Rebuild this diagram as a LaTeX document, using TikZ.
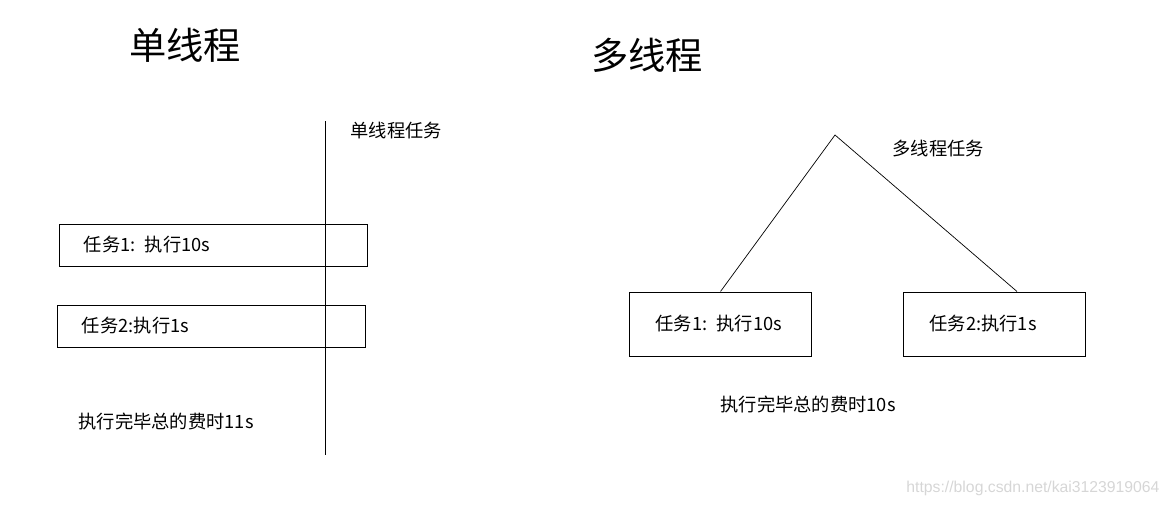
\documentclass[tikz,border=0pt]{standalone}
\usepackage{fontspec}
\setmainfont{Noto Sans CJK SC}
\newfontfamily\wmfont{Liberation Sans}
\usetikzlibrary{positioning, calc}

\begin{document}
\begin{tikzpicture}[x=0.025cm, y=-0.025cm, line width=0.7pt,
  heading/.style={font=\fontsize{26.5}{30}\selectfont, inner sep=0pt},
  note/.style={font=\fontsize{13}{15}\selectfont, inner sep=0pt, anchor=west},
  task/.style={draw, rectangle, minimum width=7.675cm, minimum height=1.05cm, inner xsep=0.6cm, text width=6.475cm, align=left, font=\fontsize{13}{15}\selectfont},
  ptask/.style={draw, rectangle, minimum width=4.525cm, minimum height=1.6cm, inner xsep=0.64cm, text width=3.245cm, align=left, font=\fontsize{13}{15}\selectfont}]
\useasboundingbox (0,0) rectangle (1170,507);
% single thread
\node[heading] (single) at (185,45) {单线程};
\node[note] (singlejob) at (350,131) {单线程任务};
\node[task] (s1) at (213.5,245) {任务1: 执行10s};
\node[task] (s2) at (211.5,326) {任务2:执行1s};
\node[note] (singletotal) at (78,421) {执行完毕总的费时11s};
\coordinate (top) at (325,121);
\coordinate (bottom) at (325,455);
\draw[-] (top) -- (bottom);
% multi thread
\node[heading] (multi) at (647,55) {多线程};
\node[note] (multijob) at (892,149) {多线程任务};
\node[ptask] (m1) at (720.5,324) {任务1: 执行10s};
\node[ptask] (m2) at (994.5,324) {任务2:执行1s};
\node[note] (multitotal) at (720,404) {执行完毕总的费时10s};
\coordinate (apex) at (835,135);
\draw[-, line width=0.5pt] (m1.north) -- (apex) -- ($(m2.north)+(22.5,0)$);
\node[anchor=east, inner sep=0pt, text=black!16, font=\wmfont\fontsize{11.2}{13}\selectfont] (mark) at (1160,488) {https://blog.csdn.net/kai3123919064};
\end{tikzpicture}
\end{document}
